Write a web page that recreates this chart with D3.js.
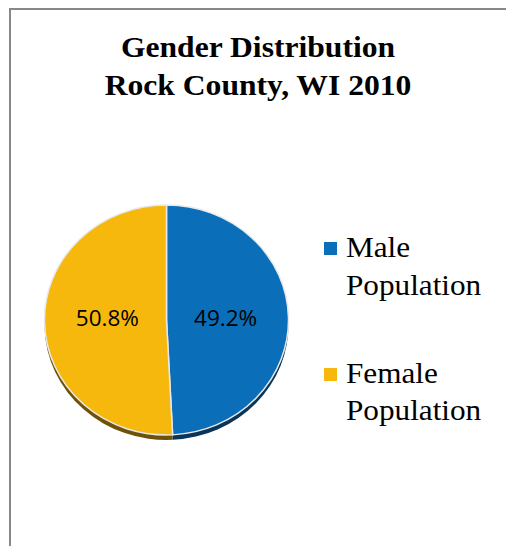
<!DOCTYPE html>
<html lang="en">
<head>
    <meta charset="UTF-8">
    <title>Gender Distribution Rock County, WI 2010</title>
    <script src="https://d3js.org/d3.v7.min.js"></script>
    <style>
        body { margin: 0; padding: 0; background: #ffffff; overflow: hidden; }
        svg { display: block; }
        .title { font-family: 'Liberation Serif', 'Times New Roman', serif; font-weight: bold; font-size: 29px; fill: #000; text-anchor: middle; }
        .legend-text { font-family: 'Liberation Serif', 'Times New Roman', serif; font-size: 30px; fill: #000; }
        .slice-label { font-family: 'Open Sans', 'Liberation Sans', sans-serif; font-size: 22.5px; fill: #000; text-anchor: middle; }
    </style>
</head>
<body>
<svg id="chart" width="506" height="546"></svg>
<script>
    // --- Data ---
    const categories = ["Male Population", "Female Population"];
    const legendLines = [["Male", "Population"], ["Female", "Population"]];
    const values = [49.2, 50.8];
    const colors = ["#0a6eb9", "#f6b80c"];
    const sideColors = ["#0b3558", "#6e5208"];

    const svg = d3.select("#chart");

    // frame (only left and top visible)
    svg.append("path")
        .attr("d", "M10,546 L10,9 L506,9")
        .attr("fill", "none")
        .attr("stroke", "#888")
        .attr("stroke-width", 2);

    // title (source is slightly stretched horizontally)
    const titleX = 258;
    const title = svg.append("text").attr("class", "title")
        .attr("transform", `translate(${titleX},0) scale(1.09,1)`);
    title.append("tspan").attr("x", 0).attr("y", 57).text("Gender Distribution");
    title.append("tspan").attr("x", 0).attr("y", 95).text("Rock County, WI 2010");

    // --- Pie ---
    const cx = 166.5, cy = 320, rx = 122, ry = 115, depth = 5;
    const pie = d3.pie().sort(null).value(d => d)(values);
    const arc = d3.arc().innerRadius(0).outerRadius(rx);

    // depth edge: same slices squashed, offset down
    const sideG = svg.append("g")
        .attr("transform", `translate(${cx},${cy + depth}) scale(1,${ry / rx})`);
    sideG.selectAll("path")
        .data(pie)
        .enter().append("path")
        .attr("d", arc)
        .attr("fill", (d, i) => sideColors[i]);

    const faceG = svg.append("g")
        .attr("transform", `translate(${cx},${cy}) scale(1,${ry / rx})`);
    faceG.selectAll("path")
        .data(pie)
        .enter().append("path")
        .attr("d", arc)
        .attr("fill", (d, i) => colors[i])
        .attr("stroke", "#e8e8e8")
        .attr("stroke-width", 1.5);

    // slice labels
    const labelArc = d3.arc().innerRadius(rx * 0.5).outerRadius(rx * 0.5);
    svg.append("g")
        .selectAll("text")
        .data(pie)
        .enter().append("text")
        .attr("class", "slice-label")
        .attr("x", d => cx + labelArc.centroid(d)[0] * 0.97)
        .attr("y", cy + 6)
        .text(d => d3.format(".1f")(d.data) + "%");

    // --- Legend ---
    const legend = svg.append("g");
    const legendY = [242, 368];
    const lineGap = [38, 37];
    categories.forEach((c, i) => {
        legend.append("rect")
            .attr("x", 324).attr("y", legendY[i])
            .attr("width", 13).attr("height", 13)
            .attr("fill", colors[i]);
        const t = legend.append("text").attr("class", "legend-text")
            .attr("transform", "translate(346,0) scale(1.04,1)");
        legendLines[i].forEach((line, j) => {
            t.append("tspan").attr("x", 0).attr("y", legendY[i] + 15 + j * lineGap[i]).text(line);
        });
    });
</script>
</body>
</html>
